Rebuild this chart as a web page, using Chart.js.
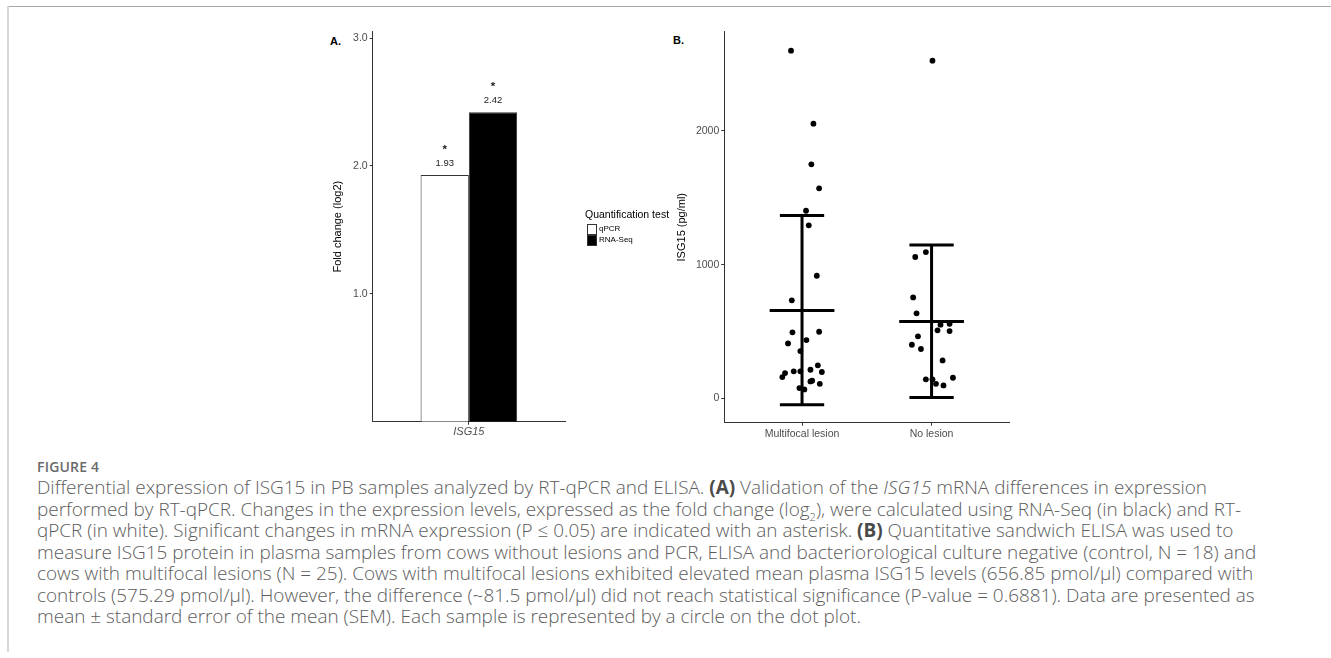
<!DOCTYPE html>
<html><head><meta charset="utf-8">
<script src="https://cdn.jsdelivr.net/npm/chart.js@4.4.0/dist/chart.umd.min.js"></script>
<style>
html,body{margin:0;padding:0;background:#fff;}
body{width:1331px;height:658px;overflow:hidden;position:relative;font-family:"Liberation Sans",Arial,sans-serif;}
.abs{position:absolute;}
#frameTop{left:7px;top:6px;width:1324px;height:1px;background:#a8a8a8;}
#frameLeft{left:7px;top:6px;width:2px;height:646px;background:#d6d6d6;}
.panelTag{font-weight:bold;font-size:11px;color:#000;line-height:12px;}
#legend{left:585px;top:208px;font-size:10.5px;color:#000;}
#legend .t{position:absolute;left:0;top:0;white-space:nowrap;line-height:13px;}
#legend .k{position:absolute;left:2px;width:8px;height:9px;border:1px solid #333;box-sizing:content-box;}
#legend .l{position:absolute;left:14px;font-size:8px;line-height:10px;white-space:nowrap;}
#caption{left:37px;top:457px;font-family:"Open Sans","Noto Sans",sans-serif;color:#5c5c5c;}
#caption .fig{font-size:14px;font-weight:600;color:#6a6a6a;line-height:20px;letter-spacing:0.2px;}
#caption .ln{font-size:16px;line-height:21.5px;white-space:nowrap;font-weight:300;}
#caption b{color:#4a4a4a;font-weight:700;}
</style>
</head><body>
<div class="abs" id="frameTop"></div>
<div class="abs" id="frameLeft"></div>

<div class="abs panelTag" style="left:330px;top:35px;">A.</div>
<div class="abs panelTag" style="left:673px;top:34px;">B.</div>

<canvas id="chartA" class="abs" width="290" height="430" style="left:300px;top:20px;width:290px;height:430px;"></canvas>
<canvas id="chartB" class="abs" width="360" height="430" style="left:670px;top:20px;width:360px;height:430px;"></canvas>

<div class="abs" id="legend">
  <div class="t">Quantification test</div>
  <div class="k" style="top:16px;background:#fff;"></div>
  <div class="l" style="top:16px;">qPCR</div>
  <div class="k" style="top:27px;background:#000;"></div>
  <div class="l" style="top:27px;">RNA-Seq</div>
</div>

<div class="abs" id="caption">
  <div class="fig">FIGURE 4</div>
  <div class="ln" id="line1">Differential expression of ISG15 in PB samples analyzed by RT-qPCR and ELISA. <b>(A)</b> Validation of the <i>ISG15</i> mRNA differences in expression</div>
  <div class="ln">performed by RT-qPCR. Changes in the expression levels, expressed as the fold change (log<sub style="font-size:11px;line-height:0;">2</sub>), were calculated using RNA-Seq (in black) and RT-</div>
  <div class="ln">qPCR (in white). Significant changes in mRNA expression (P ≤ 0.05) are indicated with an asterisk. <b>(B)</b> Quantitative sandwich ELISA was used to</div>
  <div class="ln">measure ISG15 protein in plasma samples from cows without lesions and PCR, ELISA and bacteriorological culture negative (control, N = 18) and</div>
  <div class="ln">cows with multifocal lesions (N = 25). Cows with multifocal lesions exhibited elevated mean plasma ISG15 levels (656.85 pmol/μl) compared with</div>
  <div class="ln">controls (575.29 pmol/μl). However, the difference (~81.5 pmol/μl) did not reach statistical significance (P-value = 0.6881). Data are presented as</div>
  <div class="ln">mean ± standard error of the mean (SEM). Each sample is represented by a circle on the dot plot.</div>
</div>

<script>
// ---------- Panel A data ----------
const geneCategories = ['ISG15'];
const qpcrValues = [1.93];
const rnaseqValues = [2.42];
const significanceMarks = ['*', '*'];
const foldTicks = [1.0, 2.0, 3.0];

// ---------- Panel B data ----------
const groupLabels = ['Multifocal lesion', 'No lesion'];
const multifocalValues = [2600, 2054, 1750, 1571, 1403, 1294, 917, 733, 494, 498, 411, 436, 354, 247, 159, 189, 202, 202, 214, 197, 127, 132, 109, 77, 67];
const multifocalJitter = [-0.085, 0.088, 0.072, 0.132, 0.031, 0.052, 0.114, -0.079, -0.074, 0.132, -0.108, 0.034, -0.013, 0.122, -0.152, -0.131, -0.064, -0.013, 0.065, 0.153, 0.065, 0.078, 0.137, -0.020, 0.018];
const noLesionValues = [2525, 1094, 1057, 755, 636, 551, 558, 509, 503, 464, 401, 369, 284, 142, 142, 109, 97, 154];
const noLesionJitter = [0.007, -0.044, -0.126, -0.142, -0.116, 0.069, 0.139, 0.046, 0.139, -0.105, -0.152, -0.082, 0.085, -0.044, 0.007, 0.034, 0.092, 0.165];
const groupMeans = [656.85, 575.29];
const groupUpper = [1368, 1147];
const groupLower = [-48, 7];
const isgTicks = [0, 1000, 2000];

const AX = '#333333';
const TXT = '#4d4d4d';
const FONT = '"Liberation Sans", Arial, sans-serif';

// ---------- Panel A ----------
const barLabels = {
  id: 'barLabels',
  afterDatasetsDraw(chart) {
    const ctx = chart.ctx;
    chart.data.datasets.forEach((ds, i) => {
      const meta = chart.getDatasetMeta(i);
      meta.data.forEach((bar, j) => {
        const v = ds.data[j];
        ctx.save();
        ctx.fillStyle = '#1a1a1a';
        ctx.textAlign = 'center';
        ctx.textBaseline = 'middle';
        ctx.font = '9.5px ' + FONT;
        ctx.fillText(v.toFixed(2), bar.x, bar.y - 11.5);
        ctx.font = 'bold 11.5px ' + FONT;
        ctx.fillText(significanceMarks[i], bar.x, bar.y - 25.5);
        ctx.restore();
      });
    });
  }
};

new Chart(document.getElementById('chartA'), {
  type: 'bar',
  data: {
    labels: geneCategories,
    datasets: [
      { label: 'qPCR', data: qpcrValues, backgroundColor: '#ffffff', borderColor: AX, borderWidth: 1, borderSkipped: 'bottom' },
      { label: 'RNA-Seq', data: rnaseqValues, backgroundColor: '#000000', borderColor: AX, borderWidth: 1, borderSkipped: 'bottom' }
    ]
  },
  options: {
    responsive: false, animation: false, devicePixelRatio: 1,
    categoryPercentage: 0.502, barPercentage: 1.0,
    layout: { padding: { left: 0, right: 25, top: 11.7, bottom: 0 } },
    plugins: { legend: { display: false }, tooltip: { enabled: false } },
    scales: {
      x: {
        offset: true,
        grid: { display: true, offset: false, drawOnChartArea: false, drawTicks: true, tickLength: 3, tickColor: AX },
        border: { display: true, color: AX, width: 1 },
        ticks: { color: TXT, font: { family: FONT, size: 11, style: 'italic' }, padding: 1, maxRotation: 0 },
        afterFit(s) { s.height = 28.3; }
      },
      y: {
        min: 0, max: 3.05,
        grid: { display: true, drawOnChartArea: false, drawTicks: true, tickLength: 3, tickColor: AX },
        border: { display: true, color: AX, width: 1 },
        ticks: { color: TXT, font: { family: FONT, size: 10.5 }, padding: 2, callback: v => Number(v).toFixed(1) },
        afterBuildTicks(s) { s.ticks = foldTicks.map(v => ({ value: v })); },
        title: { display: true, text: 'Fold change (log2)', color: '#000', font: { family: FONT, size: 11 }, padding: { top: 31.4, bottom: 0 } },
        afterFit(s) { s.width = 72.7; }
      }
    }
  },
  plugins: [barLabels]
});

// ---------- Panel B ----------
const errorBars = {
  id: 'errorBars',
  afterDatasetsDraw(chart) {
    const ctx = chart.ctx;
    const xs = chart.scales.x, ys = chart.scales.y;
    ctx.save();
    ctx.strokeStyle = '#000';
    ctx.lineWidth = 3;
    ctx.lineCap = 'butt';
    groupMeans.forEach((m, i) => {
      const c = i + 1;
      const xc = xs.getPixelForValue(c);
      const yT = ys.getPixelForValue(groupUpper[i]);
      const yB = ys.getPixelForValue(groupLower[i]);
      const yM = ys.getPixelForValue(m);
      const capL = xs.getPixelForValue(c - 0.171), capR = xs.getPixelForValue(c + 0.171);
      const mL = xs.getPixelForValue(c - 0.25), mR = xs.getPixelForValue(c + 0.25);
      ctx.beginPath();
      ctx.moveTo(xc, yT); ctx.lineTo(xc, yB);
      ctx.moveTo(capL, yT); ctx.lineTo(capR, yT);
      ctx.moveTo(capL, yB); ctx.lineTo(capR, yB);
      ctx.moveTo(mL, yM); ctx.lineTo(mR, yM);
      ctx.stroke();
    });
    ctx.restore();
  }
};

const mfPoints = multifocalValues.map((v, i) => ({ x: 1 + multifocalJitter[i], y: v }));
const nlPoints = noLesionValues.map((v, i) => ({ x: 2 + noLesionJitter[i], y: v }));

new Chart(document.getElementById('chartB'), {
  type: 'scatter',
  data: {
    datasets: [
      { label: groupLabels[0], data: mfPoints, backgroundColor: '#000', borderColor: '#000', pointRadius: 2.9, pointBorderWidth: 0 },
      { label: groupLabels[1], data: nlPoints, backgroundColor: '#000', borderColor: '#000', pointRadius: 2.9, pointBorderWidth: 0 }
    ]
  },
  options: {
    responsive: false, animation: false, devicePixelRatio: 1,
    layout: { padding: { left: 0, right: 20.7, top: 11.7, bottom: 0 } },
    plugins: { legend: { display: false }, tooltip: { enabled: false } },
    scales: {
      x: {
        type: 'linear', min: 0.4, max: 2.6,
        grid: { display: true, drawOnChartArea: false, drawTicks: true, tickLength: 3, tickColor: AX },
        border: { display: true, color: AX, width: 1 },
        ticks: { color: TXT, font: { family: FONT, size: 10.5 }, padding: 2, maxRotation: 0, autoSkip: false,
                 callback: v => groupLabels[Math.round(v) - 1] },
        afterBuildTicks(s) { s.ticks = groupLabels.map((_, i) => ({ value: i + 1 })); },
        afterFit(s) { s.height = 27.3; }
      },
      y: {
        min: -182, max: 2742,
        grid: { display: true, drawOnChartArea: false, drawTicks: true, tickLength: 3, tickColor: AX },
        border: { display: true, color: AX, width: 1 },
        ticks: { color: TXT, font: { family: FONT, size: 10.5 }, padding: 2, callback: v => String(v) },
        afterBuildTicks(s) { s.ticks = isgTicks.map(v => ({ value: v })); },
        title: { display: true, text: 'ISG15 (pg/ml)', color: '#000', font: { family: FONT, size: 11 }, padding: { top: 5.4, bottom: 0 } },
        afterFit(s) { s.width = 54.3; }
      }
    }
  },
  plugins: [errorBars]
});

// fit caption font so that the first line spans the measured width
(function () {
  const l1 = document.getElementById('line1');
  const range = document.createRange();
  range.selectNodeContents(l1);
  const tw = range.getBoundingClientRect().width;
  const target = 1170;
  const fs = 16 * target / tw;
  document.querySelectorAll('#caption .ln').forEach(el => { el.style.fontSize = fs.toFixed(2) + 'px'; });
})();
</script>
</body></html>
